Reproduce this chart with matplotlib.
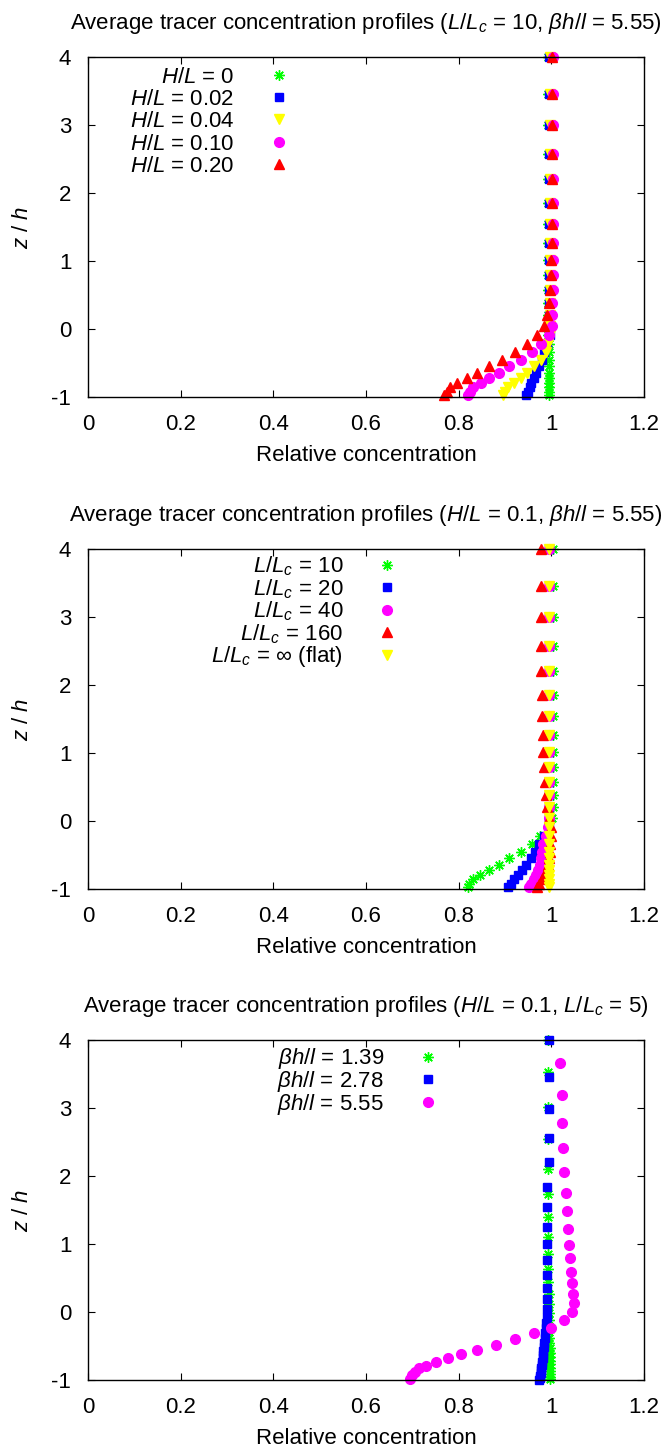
import matplotlib
matplotlib.use('Agg')
import matplotlib.pyplot as plt

plt.rcParams['font.family'] = ['Liberation Sans', 'DejaVu Sans']
plt.rcParams['mathtext.fontset'] = 'custom'
plt.rcParams['mathtext.rm'] = 'Liberation Sans'
plt.rcParams['mathtext.it'] = 'Liberation Sans:italic'
plt.rcParams['mathtext.bf'] = 'Liberation Sans:bold'
plt.rcParams['axes.unicode_minus'] = False

# ---------------- data ----------------
# vertical levels (z/h) used by panels 1 and 2
z_levels = [4.0, 3.46, 3.0, 2.58, 2.21, 1.86, 1.55, 1.27, 1.02, 0.79, 0.57, 0.38, 0.21,
            0.05, -0.09, -0.22, -0.34, -0.45, -0.55, -0.64, -0.72, -0.79, -0.86, -0.92, -0.97]

# Panel 1: varying H/L
p1_hl_000 = [0.993, 0.993, 0.993, 0.993, 0.993, 0.993, 0.993, 0.993, 0.993, 0.993, 0.993, 0.993, 0.993,
             0.993, 0.993, 0.994, 0.994, 0.994, 0.994, 0.994, 0.994, 0.994, 0.994, 0.994, 0.994]
p1_hl_002 = [0.996, 0.996, 0.996, 0.996, 0.996, 0.996, 0.996, 0.996, 0.996, 0.996, 0.996, 0.996, 0.996,
             0.998, 0.997, 0.991, 0.985, 0.979, 0.973, 0.967, 0.962, 0.957, 0.953, 0.949, 0.946]
p1_hl_004 = [0.997, 0.997, 0.997, 0.997, 0.997, 0.997, 0.997, 0.997, 0.997, 0.997, 0.997, 0.997, 0.997,
             0.997, 0.997, 0.993, 0.988, 0.977, 0.963, 0.948, 0.934, 0.920, 0.907, 0.900, 0.895]
p1_hl_010 = [1.003, 1.003, 1.003, 1.003, 1.003, 1.003, 1.003, 1.003, 1.003, 1.003, 1.003, 1.002, 1.002,
             1.001, 0.994, 0.978, 0.958, 0.935, 0.909, 0.886, 0.866, 0.848, 0.832, 0.825, 0.821]
p1_hl_020 = [1.002, 1.002, 1.002, 1.002, 1.001, 1.001, 1.001, 1.001, 1.000, 0.999, 0.998, 0.994, 0.990,
             0.985, 0.970, 0.948, 0.922, 0.893, 0.865, 0.840, 0.817, 0.797, 0.781, 0.774, 0.769]

# Panel 2: varying L/Lc
p2_lc_10 = [1.004, 1.004, 1.004, 1.004, 1.004, 1.004, 1.004, 1.004, 1.004, 1.004, 1.004, 1.004, 1.004,
            1.001, 0.992, 0.976, 0.958, 0.935, 0.909, 0.887, 0.866, 0.846, 0.832, 0.822, 0.820]
p2_lc_20 = [0.996, 0.996, 0.996, 0.996, 0.996, 0.996, 0.996, 0.996, 0.996, 0.996, 0.996, 0.996, 0.996,
            0.996, 0.994, 0.985, 0.974, 0.965, 0.956, 0.946, 0.937, 0.928, 0.919, 0.912, 0.906]
p2_lc_40 = [0.994, 0.994, 0.994, 0.994, 0.994, 0.994, 0.994, 0.994, 0.994, 0.994, 0.994, 0.994, 0.994,
            0.994, 0.993, 0.988, 0.983, 0.980, 0.978, 0.976, 0.972, 0.967, 0.962, 0.957, 0.952]
p2_lc_160 = [0.977, 0.977, 0.977, 0.977, 0.978, 0.979, 0.979, 0.981, 0.982, 0.984, 0.986, 0.989, 0.991,
             0.995, 1.000, 0.999, 0.998, 0.997, 0.995, 0.993, 0.990, 0.985, 0.980, 0.974, 0.968]
p2_lc_flat = [0.996, 0.996, 0.996, 0.996, 0.996, 0.996, 0.996, 0.996, 0.996, 0.996, 0.996, 0.996, 0.996,
              0.996, 0.996, 0.996, 0.996, 0.996, 0.996, 0.996, 0.996, 0.996, 0.995, 0.995, 0.995]

# Panel 3: varying beta h / l (each run has its own vertical grid)
p3_z_139 = [4.0, 3.53, 3.02, 2.55, 2.11, 1.73, 1.39, 1.10, 0.85, 0.63, 0.44, 0.27, 0.12, -0.02,
            -0.12, -0.21, -0.30, -0.38, -0.46, -0.53, -0.60, -0.66, -0.72, -0.77, -0.82, -0.87,
            -0.91, -0.95, -0.98]
p3_c_139 = [0.993, 0.992, 0.992, 0.992, 0.992, 0.992, 0.992, 0.992, 0.993, 0.993, 0.993, 0.994, 0.994,
            0.995, 0.995, 0.996, 0.996, 0.996, 0.996, 0.997, 0.997, 0.997, 0.997, 0.997, 0.997, 0.997,
            0.997, 0.997, 0.997]
p3_z_278 = [4.0, 3.45, 2.99, 2.56, 2.20, 1.84, 1.54, 1.25, 1.00, 0.76, 0.55, 0.36, 0.19, 0.04,
            -0.08, -0.16, -0.24, -0.31, -0.38, -0.45, -0.51, -0.57, -0.63, -0.68, -0.73, -0.78,
            -0.82, -0.86, -0.90, -0.94, -0.97, -1.0]
p3_c_278 = [0.994, 0.994, 0.994, 0.994, 0.994, 0.991, 0.991, 0.991, 0.991, 0.991, 0.991, 0.991, 0.991,
            0.991, 0.990, 0.989, 0.988, 0.987, 0.986, 0.985, 0.984, 0.983, 0.982, 0.981, 0.980, 0.979,
            0.978, 0.977, 0.977, 0.976, 0.975, 0.974]
p3_z_555 = [3.66, 3.19, 2.78, 2.41, 2.06, 1.75, 1.48, 1.22, 0.99, 0.79, 0.59, 0.42, 0.26, 0.13,
            -0.005, -0.12, -0.23, -0.31, -0.40, -0.49, -0.56, -0.62, -0.68, -0.73, -0.79, -0.83,
            -0.88, -0.93, -0.99]
p3_c_555 = [1.019, 1.022, 1.024, 1.026, 1.028, 1.031, 1.033, 1.037, 1.039, 1.040, 1.043, 1.045, 1.047,
            1.048, 1.045, 1.028, 1.000, 0.963, 0.922, 0.880, 0.840, 0.806, 0.776, 0.750, 0.730, 0.715,
            0.706, 0.700, 0.696]

xticks = [0, 0.2, 0.4, 0.6, 0.8, 1.0, 1.2]
xticklabels = ['0', '0.2', '0.4', '0.6', '0.8', '1', '1.2']
yticks = [-1, 0, 1, 2, 3, 4]
yticklabels = ['-1', '0', '1', '2', '3', '4']

titles = [
    r'Average tracer concentration profiles ($L/L_c$ = 10, $\beta h/l$ = 5.55)',
    r'Average tracer concentration profiles ($H/L$ = 0.1, $\beta h/l$ = 5.55)',
    r'Average tracer concentration profiles ($H/L$ = 0.1, $L/L_c$ = 5)',
]

GREEN = '#00ff00'
BLUE = '#0000ff'
YELLOW = '#ffff00'
MAGENTA = '#ff00ff'
RED = '#ff0000'
STAR = (8, 2, 0)

styles = {
    'star': dict(marker=STAR, color=GREEN, markersize=7.5, markeredgewidth=1.0),
    'square': dict(marker='s', color=BLUE, markersize=6),
    'tri_down': dict(marker='v', color=YELLOW, markersize=6.5),
    'circle': dict(marker='o', color=MAGENTA, markersize=7),
    'tri_up': dict(marker='^', color=RED, markersize=6.5),
}

panels = [
    dict(series=[(p1_hl_000, z_levels, 'star', r'$H/L$ = 0'),
                 (p1_hl_002, z_levels, 'square', r'$H/L$ = 0.02'),
                 (p1_hl_004, z_levels, 'tri_down', r'$H/L$ = 0.04'),
                 (p1_hl_010, z_levels, 'circle', r'$H/L$ = 0.10'),
                 (p1_hl_020, z_levels, 'tri_up', r'$H/L$ = 0.20')],
         legend_x=0.3628, legend_y=0.972, spacing=0.06),
    dict(series=[(p2_lc_10, z_levels, 'star', r'$L/L_c$ = 10'),
                 (p2_lc_20, z_levels, 'square', r'$L/L_c$ = 20'),
                 (p2_lc_40, z_levels, 'circle', r'$L/L_c$ = 40'),
                 (p2_lc_160, z_levels, 'tri_up', r'$L/L_c$ = 160'),
                 (p2_lc_flat, z_levels, 'tri_down', r'$L/L_c$ = $\infty$ (flat)')],
         legend_x=0.5581, legend_y=0.984, spacing=-0.05),
    dict(series=[(p3_c_139, p3_z_139, 'star', r'$\beta h/l$ = 1.39'),
                 (p3_c_278, p3_z_278, 'square', r'$\beta h/l$ = 2.78'),
                 (p3_c_555, p3_z_555, 'circle', r'$\beta h/l$ = 5.55')],
         legend_x=0.6313, legend_y=0.981, spacing=-0.10),
]

W, H = 668, 1450
fig = plt.figure(figsize=(W / 100, H / 100), dpi=100)

ax_left, ax_right = 88, 644
ax_tops = [57, 549, 1040]
ax_h = 340
FS = 16

for i, (p, top) in enumerate(zip(panels, ax_tops)):
    ax = fig.add_axes([ax_left / W, 1 - (top + ax_h) / H, (ax_right - ax_left) / W, ax_h / H])
    handles = []
    for xs, zs, st, lab in p['series']:
        h, = ax.plot(xs, zs, linestyle='none', label=lab, clip_on=False, **styles[st])
        handles.append(h)
    ax.set_xlim(0, 1.2)
    ax.set_ylim(-1, 4)
    ax.set_xticks(xticks)
    ax.set_xticklabels(xticklabels)
    ax.set_yticks(yticks)
    ax.set_yticklabels(yticklabels)
    ax.tick_params(direction='in', top=True, right=True, length=5, width=0.8,
                   labelsize=FS, colors='black')
    ax.tick_params(axis='x', pad=12.5)
    ax.tick_params(axis='y', pad=12)
    for s in ax.spines.values():
        s.set_linewidth(1.0)
    ax.set_xlabel('Relative concentration', fontsize=FS, labelpad=7)
    ax.set_ylabel(r'$z$ / $h$', fontsize=FS, labelpad=13)
    ax.set_title(titles[i], fontsize=FS, pad=20)
    ax.legend(handles=handles,
              loc='upper right', bbox_to_anchor=(p['legend_x'], p['legend_y']),
              markerfirst=False, frameon=False, fontsize=FS, numpoints=1,
              handlelength=1.0, handletextpad=1.48, labelspacing=p['spacing'],
              borderpad=0, borderaxespad=0)

fig.savefig('out.png', dpi=100)
